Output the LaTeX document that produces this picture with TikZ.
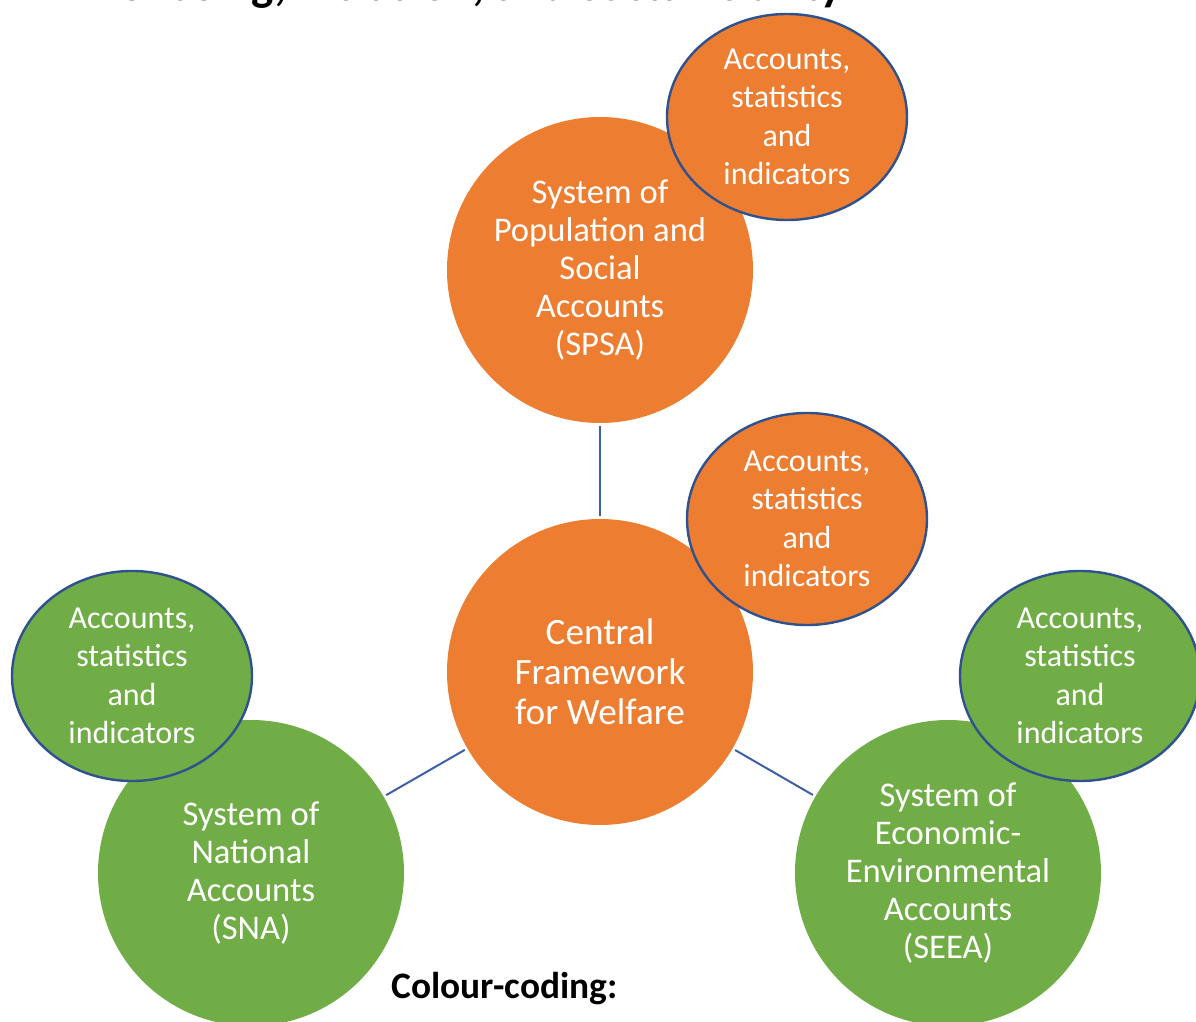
\documentclass[tikz,border=0pt]{standalone}
\usepackage{fontspec}
\setmainfont{Carlito}
\usetikzlibrary{shapes.geometric}
\definecolor{WelfOrange}{RGB}{237,125,49}
\definecolor{WelfGreen}{RGB}{112,173,71}
\definecolor{RimBlue}{RGB}{47,82,143}
\definecolor{LinkBlue}{RGB}{60,95,165}

\begin{document}
\begin{tikzpicture}[x=0.5pt,y=-0.5pt,
  system/.style={circle,minimum size=153pt,inner sep=0pt,outer sep=0pt,align=center,
    text=white,font=\fontsize{17.3}{18.9}\selectfont},
  stats/.style={ellipse,draw=RimBlue,line width=1.2pt,minimum width=120pt,minimum height=103pt,
    inner sep=0pt,align=center,text=white,font=\fontsize{16}{19.2}\selectfont},
  link/.style={LinkBlue,line width=1pt,shorten <=1.5pt,shorten >=1.5pt}]
\useasboundingbox (0,0) rectangle (1196,1022);
\clip (0,0) rectangle (1196,1022);
% title, cut by the frame
\node[anchor=base west,inner sep=0pt,font=\bfseries\fontsize{23.5}{28}\selectfont] (title) at (78,1)
  {Wellbeing, Inclusion, and Sustainability};
% the four systems
\node[system,fill=WelfOrange] (spsa) at (600,270)
  {System of\\Population and\\Social\\Accounts\\(SPSA)};
\node[system,fill=WelfOrange,font=\fontsize{18.6}{20}\selectfont] (cfw) at (600,672)
  {Central\\Framework\\for Welfare};
\node[system,fill=WelfGreen] (sna) at (251,873)
  {System of\\National\\Accounts\\(SNA)};
\node[system,fill=WelfGreen] (seea) at (948,873)
  {System of\\Economic-\\Environmental\\Accounts\\(SEEA)};
% accounts, statistics and indicators
\node[stats,fill=WelfOrange] (spsastats) at (787,117) {Accounts,\\statistics\\and\\indicators};
\node[stats,fill=WelfOrange,minimum height=106pt] (cfwstats) at (807,519) {Accounts,\\statistics\\and\\indicators};
\node[stats,fill=WelfGreen,minimum height=105pt] (snastats) at (132,676) {Accounts,\\statistics\\and\\indicators};
\node[stats,fill=WelfGreen,minimum height=105pt] (seeastats) at (1080,676) {Accounts,\\statistics\\and\\indicators};
% links
\draw[link] (spsa) -- (cfw);
\draw[link] (sna) -- (cfw);
\draw[link] (seea) -- (cfw);
\node[anchor=base west,inner sep=0pt,font=\bfseries\fontsize{18.7}{22}\selectfont] (key) at (391,998)
  {Colour-coding:};
\end{tikzpicture}
\end{document}
